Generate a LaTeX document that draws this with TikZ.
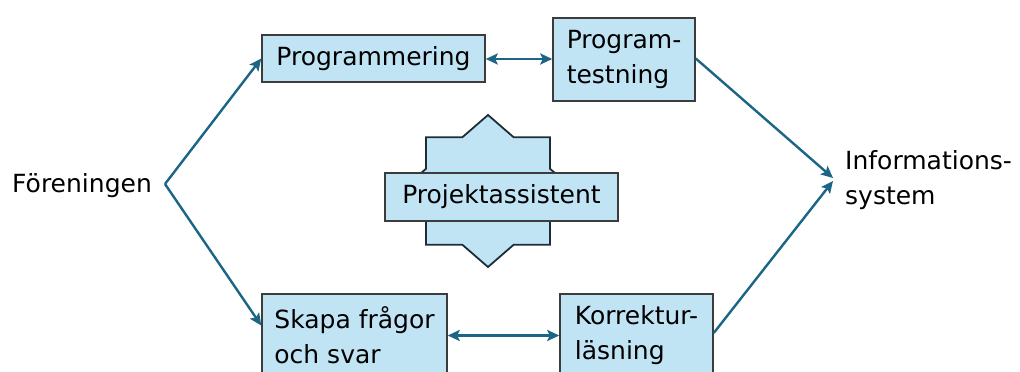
\documentclass[tikz,border=0pt]{standalone}
\usepackage{fontspec}
\setmainfont{DejaVu Sans}
\usetikzlibrary{arrows.meta,calc}
\definecolor{boxfill}{HTML}{C1E4F5}
\definecolor{boxline}{HTML}{3C3C3C}
\definecolor{starline}{HTML}{1E2C3A}
\definecolor{arrowcol}{HTML}{1B6585}
\tikzset{
  pbox/.style={draw=boxline, fill=boxfill, line width=1.5pt, inner sep=0pt, align=left,
    font=\fontsize{25}{35}\selectfont},
  plain/.style={inner sep=0pt, align=left, font=\fontsize{25}{35}\selectfont},
  conn/.style={draw=arrowcol, line width=2.4pt, -{Stealth[length=12pt,width=11pt,inset=2.5pt]}},
  biconn/.style={draw=arrowcol, line width=2.4pt, {Stealth[length=12pt,width=11pt,inset=2.5pt]}-{Stealth[length=12pt,width=11pt,inset=2.5pt]}},
  starshape/.style={draw=starline, fill=boxfill, line width=1.8pt, line join=miter}
}
\begin{document}
\begin{tikzpicture}[x=1pt,y=-1pt]
\path[use as bounding box] (0,0) rectangle (1020,372);
\clip (0,0) rectangle (1020,372);
% boxes
\node[pbox, minimum width=223pt, minimum height=47pt] (prog) at (373.5,58.5) {Programmering};
\node[pbox, minimum width=142pt, minimum height=83pt] (ptest) at (624,59.5) {Program-\\testning};
\node[pbox, minimum width=185pt, minimum height=83pt] (skapa) at (354.5,335.5) {Skapa frågor\\och svar};
\node[pbox, minimum width=153pt, minimum height=83pt] (korr) at (636.5,335.5) {Korrektur-\\läsning};
% star
\begin{scope}[shift={(488,191)}, xscale=87.7, yscale=76]
\draw[starshape] (1,0) -- (0.7068,0.2928) -- (0.7071,0.7071) -- (0.2928,0.7068) -- (0,1)
 -- (-0.2928,0.7068) -- (-0.7071,0.7071) -- (-0.7068,0.2928) -- (-1,0)
 -- (-0.7068,-0.2928) -- (-0.7071,-0.7071) -- (-0.2928,-0.7068) -- (0,-1)
 -- (0.2928,-0.7068) -- (0.7071,-0.7071) -- (0.7068,-0.2928) -- cycle;
\end{scope}
\node[pbox, minimum width=233pt, minimum height=48pt] (pa) at (501.5,197) {Projektassistent};
% texts
\node[plain, anchor=west] (foren) at (12,186) {Föreningen};
\node[plain, anchor=west] (info) at (845,180) {Informations-\\system};
\coordinate (fork) at (165,184);
\coordinate (in1) at (833,178);
\coordinate (in2) at (833,181);
% connectors
\draw[conn] (fork) -- (prog.west);
\draw[conn] (fork) -- ($(skapa.west)+(0,-10)$);
\draw[conn] ($(ptest.east)+(0,-1)$) -- (in1);
\draw[conn] ($(korr.east)+(0,-2.5)$) -- (in2);
\draw[biconn] ($(prog.east)+(0,0.5)$) -- ($(ptest.west)+(0,-0.5)$);
\draw[biconn] (skapa) -- (korr);
\end{tikzpicture}
\end{document}
